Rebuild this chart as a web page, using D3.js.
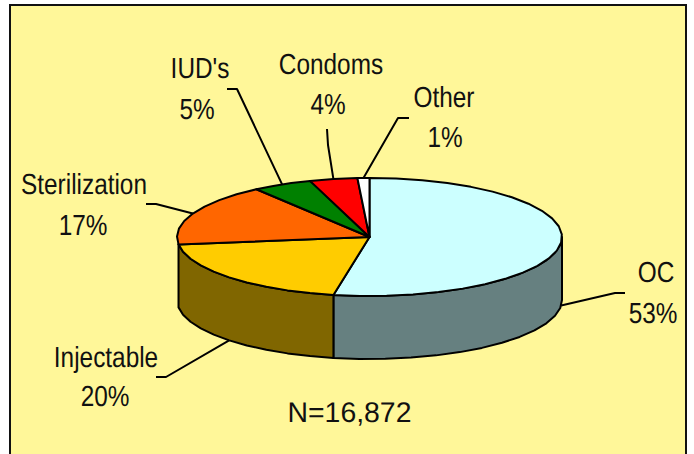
<!DOCTYPE html>
<html lang="en">
<head>
    <meta charset="UTF-8">
    <script src="https://d3js.org/d3.v7.min.js"></script>
    <title>Contraceptive Method Pie</title>
    <style>
        html, body { margin:0; padding:0; background:#fff; overflow:hidden; }
        text { font-family:"Liberation Sans", Arial, sans-serif; fill:#111; text-rendering:geometricPrecision; }
        path { stroke-linejoin:round; }
    </style>
</head>
<body>
    <script>
        var categories = ["OC", "Injectable", "Sterilization", "IUD's", "Condoms", "Other"];
        var values = [53, 20, 17, 5, 4, 1];
        var topColors = ["#CCFFFF", "#FFCC00", "#FF6600", "#008000", "#FF0000", "#FFFFFF"];
        var sideColors = ["#668080", "#806600", "#803300", "#004000", "#800000", "#808080"];

        // label centre x, first baseline, second baseline, and leader elbow points
        var labelX = [[656, 653], [106, 105], [84, 83], [200, 197], [331, 328], [444, 445]];
        var labelY = [[282, 323], [367, 406], [194, 235], [78, 119], [74, 114], [107, 147]];
        var elbows = [[[615, 293], [625, 293]], [[166, 377], [156, 377]], [[156, 204], [146, 204]],
                      [[237, 89], [227, 89]], [[328, 145], [327, 129]], [[398, 118], [409, 118]]];
        var note = "N=16,872";

        var width = 694, height = 454;
        var cx = 369.5, cy = 237, rx = 192.5, ry = 59, depth = 63;

        var svg = d3.select("body").append("svg").attr("width", width).attr("height", height)
            .style("display", "block");

        svg.append("rect").attr("x", 10).attr("y", 5).attr("width", 676).attr("height", 470)
            .attr("fill", "#FFF799").attr("stroke", "#111").attr("stroke-width", 2);

        var pie = d3.pie().sort(null).value(function(d) { return d; });
        var arcs = pie(values);

        var px = function(a) { return cx + rx * Math.sin(a); };
        var py = function(a) { return cy - ry * Math.cos(a); };
        var line = d3.line();

        // rough faceted rim, like the old chart export
        var rim = function(a0, a1) {
            var n = Math.max(1, Math.ceil(Math.abs(a1 - a0) / (8 * Math.PI / 180)));
            return d3.range(n + 1).map(function(i) { return a0 + (a1 - a0) * i / n; });
        };

        // walls, only the front half of the disc shows
        arcs.forEach(function(d, i) {
            var a0 = Math.max(d.startAngle, Math.PI / 2);
            var a1 = Math.min(d.endAngle, 3 * Math.PI / 2);
            if (i > 1 || a1 <= a0) return;
            var angles = rim(a0, a1);
            var pts = angles.map(function(a) { return [px(a), py(a)]; })
                .concat(angles.slice().reverse().map(function(a) { return [px(a), py(a) + depth]; }));
            svg.append("path").attr("d", line(pts) + "Z")
                .attr("fill", sideColors[i]).attr("stroke", "#000").attr("stroke-width", 2);
        });

        // top of the disc
        arcs.forEach(function(d, i) {
            var pts = [[cx, cy]].concat(rim(d.startAngle, d.endAngle).map(function(a) { return [px(a), py(a)]; }));
            svg.append("path").attr("d", line(pts) + "Z")
                .attr("fill", topColors[i]).attr("stroke", "#000").attr("stroke-width", 2);
        });

        // leaders and labels
        arcs.forEach(function(d, i) {
            var mid = (d.startAngle + d.endAngle) / 2;
            var front = Math.cos(mid) < 0 || i === 0;
            var start = [px(mid), py(mid) + (front ? depth : 0)];
            svg.append("path").attr("d", line([start].concat(elbows[i])))
                .attr("fill", "none").attr("stroke", "#000").attr("stroke-width", 2);

            [categories[i], values[i] + "%"].forEach(function(s, k) {
                svg.append("text")
                    .attr("transform", "translate(" + labelX[i][k] + "," + labelY[i][k] + ") scale(0.84,1)")
                    .attr("text-anchor", "middle").attr("font-size", 29).text(s);
            });
        });

        svg.append("text").attr("x", 349.5).attr("y", 422).attr("text-anchor", "middle")
            .attr("font-size", 28.4).text(note);
    </script>
</body>
</html>
